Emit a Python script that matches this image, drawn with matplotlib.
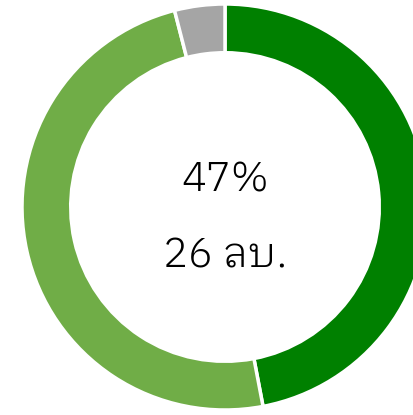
import matplotlib
matplotlib.use("Agg")
import matplotlib.pyplot as plt

# share of the three groups
labels = ["group A", "group B", "group C"]
values = [47, 49, 4]
colors = ["#008000", "#70AD47", "#A5A5A5"]

pct_text = "47%"
count_text = "26 ลบ."

fig = plt.figure(figsize=(4.13, 4.15), dpi=100)
# outer circle: centre (225, 207) px, radius 203 px
ax = fig.add_axes([22 / 413, 5 / 415, 406 / 413, 406 / 415])

ax.pie(values, colors=colors, startangle=90, counterclock=False,
       radius=1.0, wedgeprops=dict(width=0.24, edgecolor="white", linewidth=2.5))
ax.set_xlim(-1, 1)
ax.set_ylim(-1, 1)

fam = ["IBM Plex Sans Thai Looped", "Noto Sans Thai Looped", "DejaVu Sans"]
ax.text(0, 0.074, pct_text, ha="center", va="baseline", fontsize=30,
        family=fam, weight=300)
ax.text(0, -0.296, count_text, ha="center", va="baseline", fontsize=30,
        family=fam, weight=300)

fig.savefig("out.png", dpi=100)
